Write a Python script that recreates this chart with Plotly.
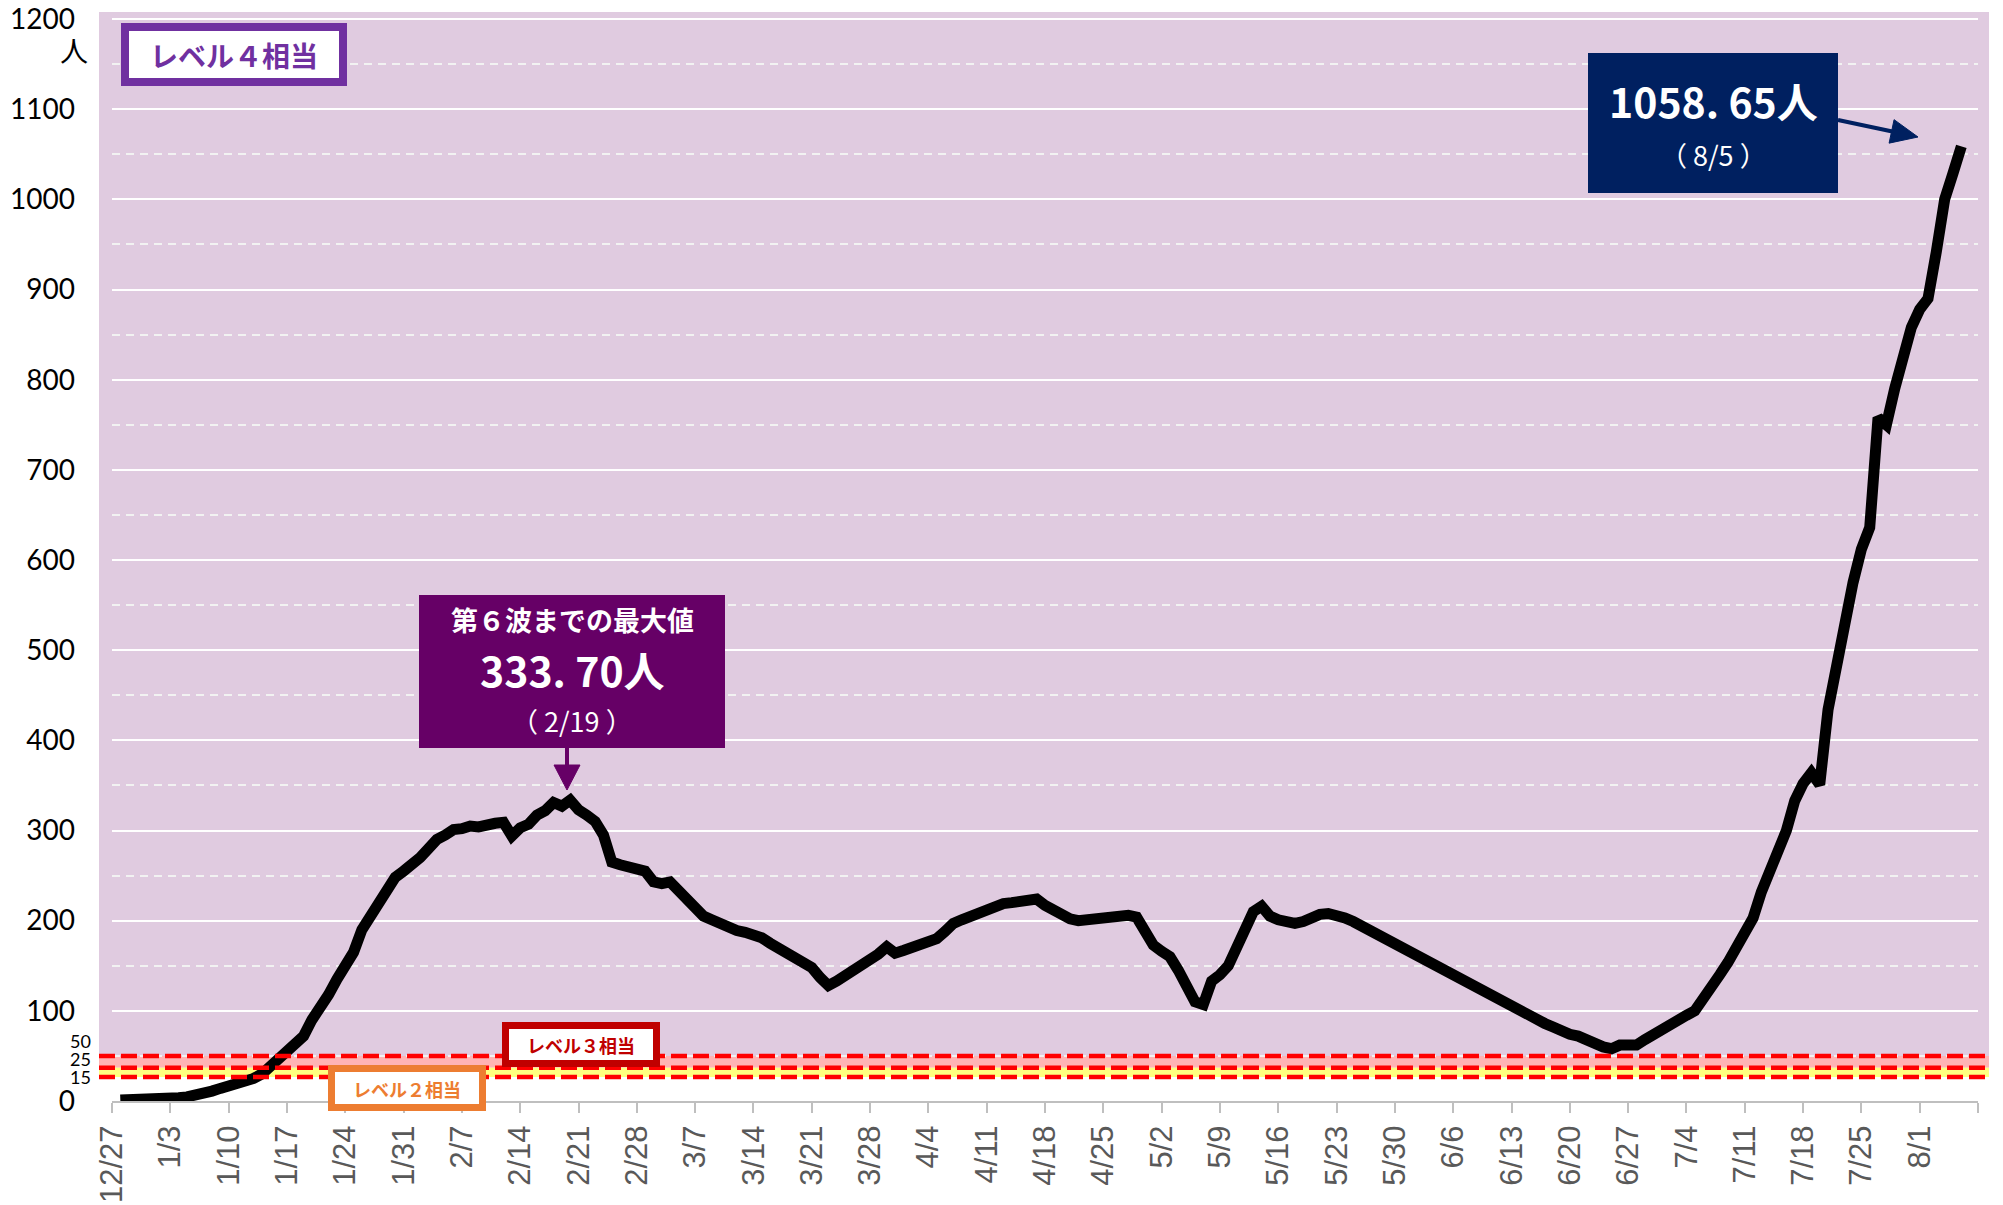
import pandas as pd
import plotly.graph_objects as go

# ---------------- data (7-day average per 100k, daily) ----------------
start_date = "2021-12-27"
vals_dec = [1, 1, 1, 1.5, 2]
vals_jan = [2.5, 3, 3.5, 4.5, 6, 8.5, 11, 14, 16, 18, 20, 25, 30, 38, 45, 53, 60, 72, 90, 103,
            118, 135, 149, 165, 190, 205, 217, 232, 248, 255, 262]
vals_feb = [270, 280, 290, 295, 301, 302, 305, 304, 307, 308, 309, 294, 303, 307, 317, 322, 331, 327,
            333.70, 323, 317, 310, 295, 265, 262, 260, 258, 255]
vals_mar = [243, 241, 243, 233, 222, 213, 205, 201, 196, 191, 189, 187, 185, 181, 175, 170, 164, 158,
            154, 148, 137, 128, 133, 139, 143, 148, 154, 163, 171, 164, 167]
vals_apr = [170, 171, 175, 180, 188, 197, 201, 205, 207, 211, 215, 219, 220, 222, 223, 224, 217, 212,
            206, 202, 200, 201, 202, 203, 205, 207, 206, 204, 190, 173]
vals_may = [166, 160, 145, 125, 110, 107, 133, 140, 150, 170, 193, 210, 216, 205, 201, 198, 197, 199,
            204, 207, 208, 207, 203, 199, 194, 188, 183, 178, 174, 169, 164]
vals_jun = [160, 155, 149, 144, 141, 136, 131, 125, 120, 114, 108, 104, 101, 95, 90, 86, 82, 77, 74,
            72, 67, 62, 60, 58, 62, 62, 62, 68, 74, 79]
vals_jul = [85, 90, 95, 100, 112, 126, 140, 154, 172, 190, 203, 232, 255, 280, 300, 333, 352, 364, 351,
            434, 485, 530, 575, 612, 636, 758, 750, 790, 822, 858, 878]
vals_aug = [890, 942, 1000, 1029, 1058.65]

values = vals_dec + vals_jan + vals_feb + vals_mar + vals_apr + vals_may + vals_jun + vals_jul + vals_aug
dates = pd.date_range(start_date, periods=len(values), freq="D")

tick_labels = ["12/27", "1/3", "1/10", "1/17", "1/24", "1/31", "2/7", "2/14", "2/21", "2/28", "3/7",
               "3/14", "3/21", "3/28", "4/4", "4/11", "4/18", "4/25", "5/2", "5/9", "5/16", "5/23",
               "5/30", "6/6", "6/13", "6/20", "6/27", "7/4", "7/11", "7/18", "7/25", "8/1", ""]
level_thresholds = [50, 37, 26.5]   # drawn positions of the level lines
y_ticks = list(range(0, 1201, 100))
small_labels = ["50", "25", "15"]

# ---------------- layout geometry (pixels) ----------------
W, H = 2003, 1205
L, R, T, B = 112, 1978, 12, 1101
YMAX = 1207.8


def px(x):
    return (x - L) / (R - L)


def py(y):
    return (B - y) / (B - T)


def pv(v):
    return v / YMAX


# Excel date axis "between tick marks": ticks half a day before each point
tick_pos = pd.date_range("2021-12-26 12:00", periods=len(tick_labels), freq="7D")

fig = go.Figure()
fig.add_trace(go.Scatter(x=dates + pd.Timedelta(hours=12), y=values, mode="lines",
                         line=dict(color="black", width=11), hoverinfo="skip"))

shapes = []
# backgrounds
shapes.append(dict(type="rect", xref="paper", yref="paper", x0=px(99), x1=px(1989),
                   y0=pv(level_thresholds[0]), y1=1, fillcolor="#E0CBE0", line_width=0, layer="below"))
shapes.append(dict(type="rect", xref="paper", yref="paper", x0=px(99), x1=px(1989),
                   y0=pv(level_thresholds[1]), y1=pv(level_thresholds[0]), fillcolor="#FFB3B3",
                   line_width=0, layer="below"))
shapes.append(dict(type="rect", xref="paper", yref="paper", x0=px(99), x1=px(1989),
                   y0=pv(level_thresholds[2]), y1=pv(level_thresholds[1]), fillcolor="#FFFF80",
                   line_width=0, layer="below"))
# red dashed level lines
for v in level_thresholds:
    shapes.append(dict(type="line", xref="paper", yref="paper", x0=px(99), x1=px(1989),
                       y0=pv(v), y1=pv(v), line=dict(color="#FF0000", width=4.5, dash="16px,6px"),
                       layer="above"))


def box(x0, y0, x1, y1, fill, border=None, bw=0):
    h = bw / 2
    shapes.append(dict(type="rect", xref="paper", yref="paper",
                       x0=px(x0 + h), x1=px(x1 - h), y0=py(y1 - h), y1=py(y0 + h),
                       fillcolor=fill, line=dict(color=border or fill, width=bw if border else 0),
                       layer="above"))


box(121, 23, 347, 86, "white", "#7030A0", 8)       # level 4
box(502, 1022, 660, 1067, "white", "#C00000", 7)   # level 3
box(328, 1065, 486, 1111, "white", "#ED7D31", 7)   # level 2
box(419, 595, 725, 748, "#660066")                 # peak box
box(1588, 53, 1838, 193, "#002060")                # latest box


def arrow(x0, y0, x1, y1, color, lw, hl, hw):
    dx, dy = x1 - x0, y1 - y0
    n = (dx * dx + dy * dy) ** 0.5
    ux, uy = dx / n, dy / n
    bx, by = x1 - ux * hl, y1 - uy * hl
    shapes.append(dict(type="line", xref="paper", yref="paper", x0=px(x0), y0=py(y0),
                       x1=px(bx + ux * 2), y1=py(by + uy * 2), line=dict(color=color, width=lw),
                       layer="above"))
    nx, ny = -uy, ux
    p1 = (bx + nx * hw, by + ny * hw)
    p2 = (bx - nx * hw, by - ny * hw)
    path = "M {},{} L {},{} L {},{} Z".format(px(x1), py(y1), px(p1[0]), py(p1[1]), px(p2[0]), py(p2[1]))
    shapes.append(dict(type="path", xref="paper", yref="paper", path=path, fillcolor=color,
                       line=dict(color=color, width=1), layer="above"))


arrow(567, 748, 567, 790, "#660066", 4, 25, 13)
arrow(1838, 120, 1918, 137, "#002060", 4, 27, 12)

ann = []
JP = "Noto Sans CJK JP"


def text(x, y, s, size, color, family=JP, xanchor="center", bold=False):
    ann.append(dict(xref="paper", yref="paper", x=px(x), y=py(y), text=("<b>%s</b>" % s) if bold else s,
                    showarrow=False, xanchor=xanchor, yanchor="middle",
                    font=dict(family=family, size=size, color=color)))


text(234, 55, "レベル４相当", 28, "#7030A0", bold=True)
text(581, 1045, "レベル３相当", 18, "#C00000", bold=True)
text(407, 1089, "レベル２相当", 18, "#ED7D31", bold=True)
text(572, 619, "第６波までの最大値", 27, "white", bold=True)
text(572, 669, "333. 70人", 41, "white", bold=True)
text(572, 720, "（ 2/19 ）", 27, "white")
text(1713, 100, "1058. 65人", 41, "white", bold=True)
text(1713, 155, "（ 8/5 ）", 27, "white")
text(74, 50, "人", 28, "black")
for lab, yy in zip(small_labels, [1041, 1059, 1077]):
    text(93, yy, lab, 18, "black", family="Lato", xanchor="right")

fig.update_layout(
    width=W, height=H,
    margin=dict(l=L, r=W - R, t=T, b=H - B, pad=0, autoexpand=False),
    paper_bgcolor="white", plot_bgcolor="white",
    showlegend=False,
    shapes=shapes, annotations=ann,
    xaxis=dict(range=[tick_pos[0], tick_pos[-1]], tickvals=tick_pos, ticktext=tick_labels,
               automargin=False,
               tickangle=-90, showgrid=False, zeroline=False, showline=True, linecolor="#BFBFBF",
               linewidth=2, ticks="outside", ticklen=10, tickwidth=2, tickcolor="#BFBFBF",
               tickfont=dict(family="Liberation Sans", size=31, color="#595959")),
    yaxis=dict(range=[0, YMAX], tickvals=y_ticks, ticktext=[str(v) for v in y_ticks],
               automargin=False,
               showgrid=True, gridcolor="white", gridwidth=2, zeroline=False, showline=False,
               ticks="", ticklabelstandoff=36,
               tickfont=dict(family="Lato", size=28, color="black"),
               minor=dict(dtick=50, tick0=0, showgrid=True, gridcolor="#F2F2F2", gridwidth=2,
                          griddash="8px,6px")),
)

fig.write_html("out.html", config={"displayModeBar": False},
               post_script="document.body.style.margin='0';")
